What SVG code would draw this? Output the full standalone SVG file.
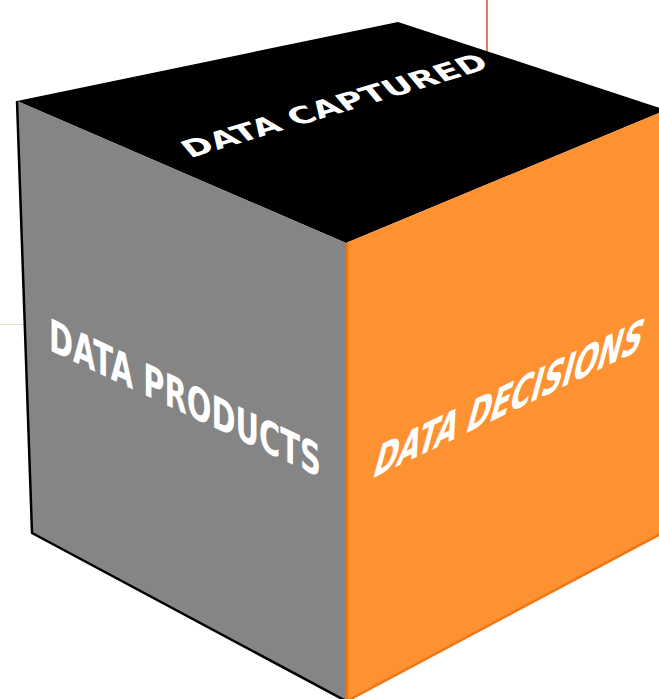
<svg xmlns="http://www.w3.org/2000/svg" width="659" height="699" viewBox="0 0 659 699">
  <style>
    .label { font-family: "DejaVu Sans", Verdana, sans-serif; font-weight: bold; fill: #ffffff; }
  </style>
  <rect width="659" height="699" fill="#ffffff"/>

  <!-- guide ticks -->
  <g id="connectors">
    <line x1="487" y1="0" x2="487" y2="59" stroke="#c8583a" stroke-width="1.5"/>
    <line x1="0" y1="324.5" x2="24" y2="324.5" stroke="#e4e4c8" stroke-width="1"/>
  </g>

  <!-- top face -->
  <g id="face-top">
    <polygon points="17,101 398,22 666,110 346,243" fill="#000000"/>
    <g transform="matrix(0.958,-0.288,0.55,0.66,334,105)">
      <text class="label" x="0" y="12" font-size="32" text-anchor="middle" textLength="314" lengthAdjust="spacingAndGlyphs">DATA CAPTURED</text>
    </g>
  </g>

  <!-- left face -->
  <g id="face-left">
    <polygon points="17,101 346,243 346,701 32,533" fill="#858585"/>
    <polyline points="17,101 32,533 346,701" fill="none" stroke="#000000" stroke-width="2.5" stroke-linejoin="round"/>
    <g transform="matrix(1,0.47,0,1,49,350)">
      <text class="label" x="0" y="0" font-size="45" textLength="272" lengthAdjust="spacingAndGlyphs">DATA PRODUCTS</text>
    </g>
  </g>

  <!-- right face -->
  <g id="face-right">
    <polygon points="346,243 666,110 666,531 346,701" fill="#fe9131"/>
    <polyline points="347,243 347,701 666,531" fill="none" stroke="#f07614" stroke-width="2.5"/>
    <g transform="matrix(1,-0.48,-0.27,1,371,479)">
      <text class="label" x="0" y="0" font-size="47" textLength="268" lengthAdjust="spacingAndGlyphs">DATA DECISIONS</text>
    </g>
  </g>
</svg>
